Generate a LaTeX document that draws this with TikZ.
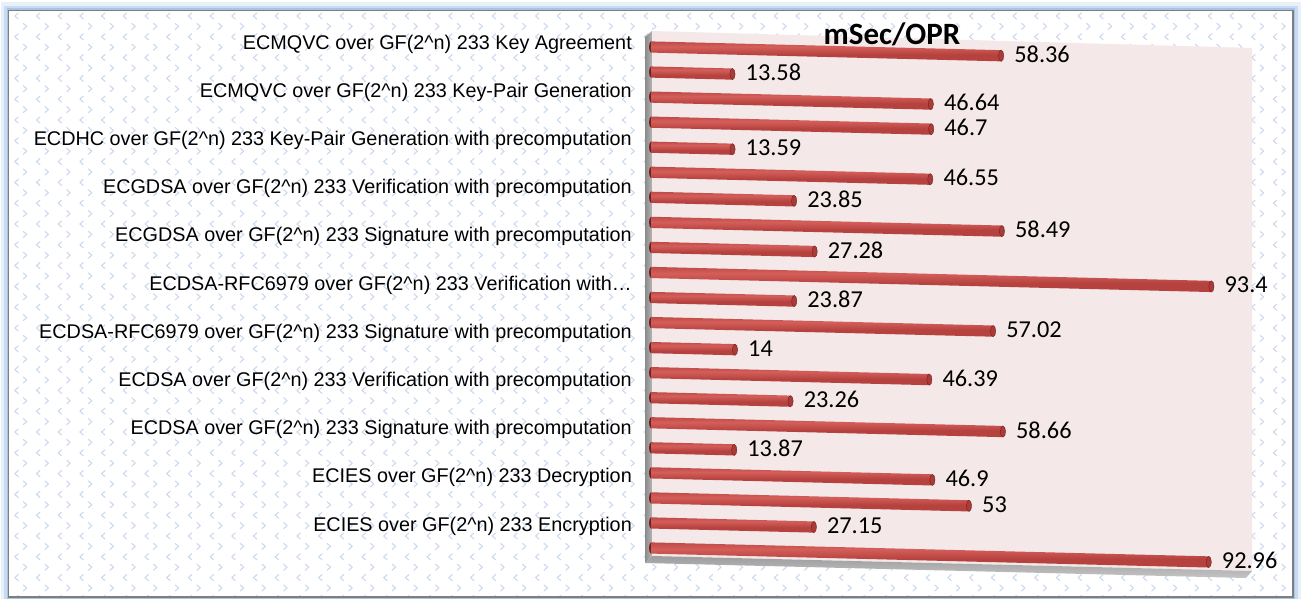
\documentclass[tikz,border=0pt]{standalone}
\usepackage{fontspec}
\newfontfamily\labfont{Liberation Sans}
\newfontfamily\valfont{Carlito}
\definecolor{glowblue}{HTML}{8DB4E2}
\definecolor{chevblue}{HTML}{CCDAF0}
\definecolor{wallpink}{HTML}{F4E8E8}
\definecolor{sidegrayA}{HTML}{8A8A8A}
\definecolor{sidegrayB}{HTML}{B4B4B4}
\definecolor{floorgray}{HTML}{C4C4C4}
\definecolor{framegray}{HTML}{7F7F7F}
\definecolor{bd}{HTML}{72201E}
\definecolor{bm}{HTML}{B6423F}
\definecolor{bl}{HTML}{D45E5A}
\definecolor{capc}{HTML}{A93B38}
\pgfdeclareverticalshading{barshade}{100bp}{color(0bp)=(bd); color(20bp)=(bm); color(42bp)=(bm); color(62bp)=(bl); color(80bp)=(bm); color(100bp)=(bd)}
\newcommand{\gfn}{GF(2\textasciicircum n)}
\begin{document}
\begin{tikzpicture}[x=1pt,y=-1pt,
  lab/.style={font=\labfont\fontsize{19.8}{22}\selectfont, anchor=east, inner sep=0pt},
  val/.style={font=\valfont\fontsize{24.3}{27}\selectfont, anchor=west, inner sep=0pt},
  chev/.style={draw=chevblue, line width=1.1pt, line cap=round, line join=round},
  barcap/.style={fill=capc, draw=bd, line width=0.4pt}]
\useasboundingbox (0,0) rectangle (1302,599);
% frame glow
\draw[glowblue, opacity=0.2, line width=16pt] (8.5,10.5) rectangle (1293,597);
\draw[glowblue, opacity=0.35, line width=9pt] (8.5,10.5) rectangle (1293,597);
\draw[glowblue, opacity=0.6, line width=4pt] (8.5,10.5) rectangle (1293,597);
\fill[white] (8.5,10.5) rectangle (1293,597);
% background chevron pattern
\begin{scope}
\clip (9,11) rectangle (1292,596);
\foreach \r in {0,...,28}{
  \pgfmathsetmacro\yy{16+20.8*\r}
  \draw[chev] \foreach \j in {0,...,58}{ ({16+21.7*\j+2.2},{\yy-3}) -- ++(-3.4,3) -- ++(3.4,3) };
}
\foreach \r in {0,...,28}{
  \pgfmathsetmacro\yy{26.4+20.8*\r}
  \draw[chev] \foreach \j in {0,...,58}{ ({25+21.7*\j-1.7},{\yy-3}) -- ++(3.4,3) -- ++(-3.4,3) };
}
\end{scope}
\draw[framegray, line width=1.5pt] (8.5,10.5) rectangle (1293,597);
% 3D walls
\shade[left color=sidegrayA, right color=sidegrayB] (645,37) -- (652,31) -- (652,556) -- (645,563) -- cycle;
\fill[wallpink] (652,31) -- (1252,48) -- (1252,571) -- (652,556) -- cycle;
\shade[top color=floorgray!80!black, bottom color=floorgray] (645,563) -- (652,556) -- (1252,571) -- (1246,578) -- cycle;
% bars
\foreach \v [count=\i from 0] in {58.36,13.58,46.64,46.7,13.59,46.55,23.85,58.49,27.28,93.4,23.87,57.02,14,46.39,23.26,58.66,13.87,46.9,53,27.15,92.96}{
  \pgfmathsetmacro\xe{651+6.0*\v}
  \pgfmathsetmacro\yl{47+25.05*\i}
  \pgfmathsetmacro\ye{\yl+0.025*(\xe-651)}
  \fill[bd] (651,\yl) ellipse [x radius=2, y radius=5.6];
  \shade[shading=barshade] (651,{\yl-5.6}) -- (\xe,{\ye-5.6}) -- (\xe,{\ye+5.6}) -- (651,{\yl+5.6}) -- cycle;
  \path[barcap] (\xe,\ye) ellipse [x radius=2.6, y radius=5.6];
  \node[val] (v\i) at ({\xe+13},{\ye-1.5}) {\v};
}
% category labels
\foreach \t [count=\k from 0] in {
  ECMQVC over \gfn{} 233 Key Agreement,
  ECMQVC over \gfn{} 233 Key-Pair Generation,
  ECDHC over \gfn{} 233 Key-Pair Generation with precomputation,
  ECGDSA over \gfn{} 233 Verification with precomputation,
  ECGDSA over \gfn{} 233 Signature with precomputation,
  ECDSA-RFC6979 over \gfn{} 233 Verification with…,
  ECDSA-RFC6979 over \gfn{} 233 Signature with precomputation,
  ECDSA over \gfn{} 233 Verification with precomputation,
  ECDSA over \gfn{} 233 Signature with precomputation,
  ECIES over \gfn{} 233 Decryption,
  ECIES over \gfn{} 233 Encryption}{
  \node[lab] (c\k) at (632,{44+48.2*\k}) {\t};
}
% title
\node[font=\valfont\bfseries\fontsize{31}{34}\selectfont, inner sep=0pt] (title) at (892,34) {mSec/OPR};
\end{tikzpicture}
\end{document}
